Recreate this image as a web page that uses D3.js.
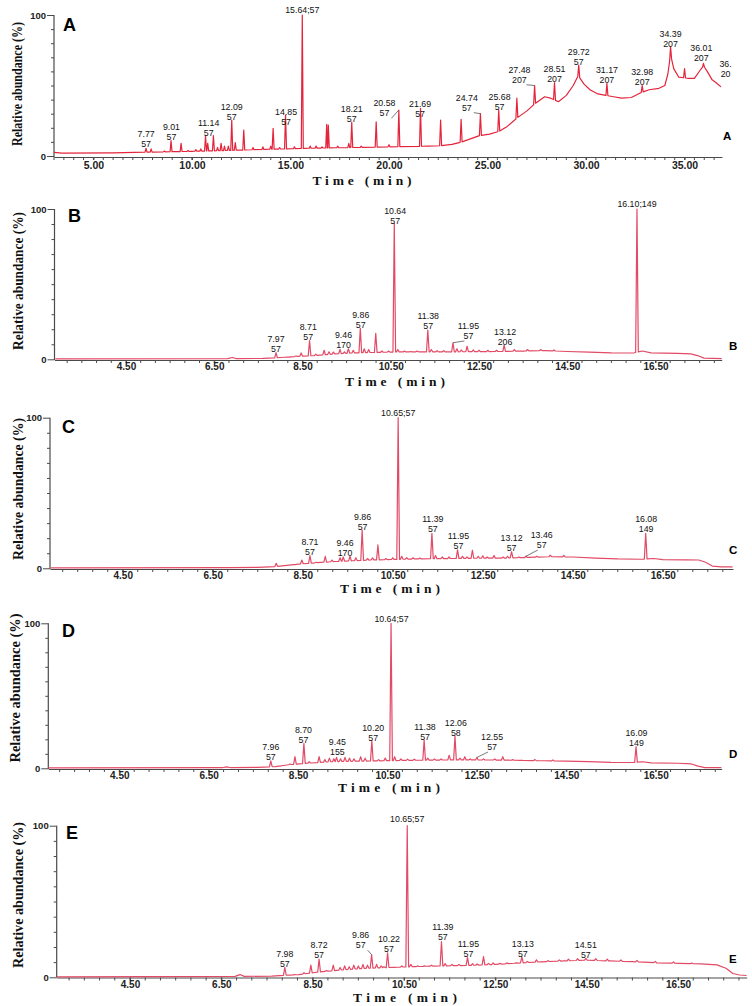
<!DOCTYPE html>
<html><head><meta charset="utf-8">
<script src="https://cdn.jsdelivr.net/npm/d3@7"></script>
<style>body{margin:0;background:#fff}svg{display:block}</style>
</head><body><svg id="c" width="752" height="1006"></svg>
<script>
// ================= DATA =================
const panelNames = ["A","B","C","D","E"];

// x tick values / labels
const xTicksA = [5,10,15,20,25,30,35];
const xTickLabelsA = ["5.00","10.00","15.00","20.00","25.00","30.00","35.00"];
const xTicksBE = [4.5,6.5,8.5,10.5,12.5,14.5,16.5];
const xTickLabelsBE = ["4.50","6.50","8.50","10.50","12.50","14.50","16.50"];
const yTicks = [0,10,20,30,40,50,60,70,80,90,100];
const yTickLabels = ["0","","","","","","","","","","100"];

// ---- Panel A : baseline [time, %] and peaks [time, %]
const baseA = [[3.0,2.6],[3.4,2.0],[6,2.2],[8,2.8],[10,3.3],[12,4.0],[14,4.8],[16,5.5],[18,6.0],[20,6.5],[22,7.0],[22.6,7.3],[23.2,8.3],[23.7,10],[24.2,12.5],[24.6,14.5],[25.1,15.5],[25.6,17.5],[26.0,21],[26.5,27],[27.0,32],[27.4,37],[27.9,42],[28.2,41],[28.6,38.5],[29.0,43],[29.35,50],[29.6,57],[29.9,51],[30.2,47],[30.6,44],[31.0,43],[31.4,42],[31.8,41],[32.3,41.5],[32.8,45],[33.2,47],[33.7,48],[34.0,50],[34.15,58],[34.29,72],[34.45,62],[34.7,56],[35.2,55],[35.5,55],[35.8,61],[35.96,64],[36.15,60],[36.4,54],[36.6,52],[36.85,49]];
const peaksA = [[7.67,5.5],[7.93,5.0],[8.6,3.5],[8.94,10.9],[9.45,9],[9.8,4],[10.2,4.5],[10.45,5],[10.69,14.2],[10.8,9],[11.09,14.4],[11.3,6],[11.48,9],[11.65,7],[11.85,7],[12.02,25.5],[12.2,9.5],[12.63,18.4],[13.1,6],[13.6,6.5],[14.0,7],[14.12,19.6],[14.45,6],[14.75,29],[15.2,6.5],[15.6,100],[16.0,7],[16.3,7],[16.6,6.5],[16.84,22.5],[16.92,22],[17.4,7],[17.96,9],[18.11,24],[18.59,7],[19.35,24.3],[20.0,8],[20.5,32.6],[21.6,33.8],[22.62,25.5],[23.66,26],[24.64,30],[25.57,32.6],[26.49,41],[27.39,50],[28.4,52],[29.63,64.5],[31.06,51.5],[32.85,50],[34.29,77.5],[35.0,62],[35.96,65.7]];
// labels: [line1, line2, time, % (bottom line), leaderTime, leader%]
const labelsA = [
 ["7.77","57",7.675,9.0],["9.01","57",8.96,14.2],["11.14","57",10.85,16.8],["12.09","57",12.02,28.6],
 ["14.85","57",14.78,25.0],["15.64;57",null,15.6,103.5],["18.21","57",18.11,26.7],
 ["20.58","57",19.77,31.0,20.5,32.6],["21.69","57",21.58,30.3],["24.74","57",23.95,35.0,24.64,30],
 ["25.68","57",25.61,35.5],["27.48","207",26.62,54.8,27.39,50],["28.51","207",28.4,55.1],
 ["29.72","57",29.63,67.4],["31.17","207",31.06,54.4],["32.98","207",32.85,53.4],
 ["34.39","207",34.29,80.4],["36.01","207",35.85,70.0],["36.","20",37.08,58.7]
];

// ---- Panel B
const baseB = [[2.9,0.3],[6.8,0.4],[6.92,1.2],[7.0,0.4],[7.6,0.6],[8.0,1.2],[8.4,2.0],[8.8,2.5],[9.2,3.5],[9.6,4.2],[10.0,4.5],[10.5,4.8],[11,5],[12,5],[13,5.2],[13.5,5.5],[14,5.8],[14.5,5.2],[15,4.8],[15.5,4.3],[16.0,4.2],[16.2,5.5],[16.4,4.3],[17.0,4.0],[17.3,3.6],[17.45,2.5],[17.6,0.8],[18.0,0.4]];
const peaksB = [[7.9,4.4],[8.2,1.5],[8.35,2.2],[8.47,4.2],[8.66,12.4],[8.8,3.5],[8.99,6],[9.1,5],[9.2,4.8],[9.35,6.6],[9.45,5],[9.54,7],[9.65,6],[9.81,20.6],[9.9,7],[10.0,6.5],[10.16,17.3],[10.3,5.5],[10.45,5.5],[10.58,90.5],[10.66,6.5],[10.81,5.5],[10.95,5.2],[11.1,5.5],[11.34,19.5],[11.42,6.5],[11.55,5.8],[11.7,5.8],[11.91,11],[12.0,7],[12.1,6.2],[12.23,8.7],[12.37,6.2],[12.5,6],[12.7,6],[12.9,6],[13.07,9.5],[13.3,6.5],[13.6,6.5],[13.9,6.5],[14.2,6.2],[16.08,100]];
const labelsB = [
 ["7.97","57",7.9,7.3],["8.71","57",8.63,15.7],["9.46","170",9.43,10.2],["9.86","57",9.82,23.5],
 ["10.64","57",10.6,92.7],["11.38","57",11.35,22.8],["11.95","57",12.26,16.2,11.91,11],
 ["13.12","206",13.09,12.4],["16.10;149",null,16.08,103.3]
];

// ---- Panel C
const baseC = [[2.9,0.3],[6.9,0.5],[7.5,0.6],[7.9,1.2],[8.3,2.5],[8.7,3.5],[9.2,4.5],[9.6,5.0],[10,5.5],[11,6.2],[12,6.6],[13,6.8],[13.5,7.2],[14,7.7],[14.5,7.5],[15,6.8],[15.5,6.2],[16.0,6.0],[16.3,6.5],[16.5,5.8],[17.0,5.6],[17.3,5.5],[17.45,4],[17.6,1.5],[17.8,1.0],[18.05,1.0]];
const peaksC = [[7.91,3.3],[8.33,2.5],[8.48,5.5],[8.66,8.4],[8.8,4],[9.0,7.9],[9.15,5.5],[9.33,7],[9.4,7.5],[9.55,8],[9.68,7],[9.82,25.4],[9.94,6.5],[10.05,7],[10.17,15.5],[10.35,6.5],[10.5,7],[10.62,100],[10.7,8],[10.81,7],[10.95,7],[11.1,6.8],[11.37,23.2],[11.45,8.5],[11.6,7.5],[11.75,7.5],[11.94,12.2],[12.05,8],[12.15,7.5],[12.27,12],[12.4,8],[12.5,8.3],[12.6,7.5],[12.75,8.5],[12.95,7.5],[13.05,8],[13.14,11],[13.3,7.5],[13.46,8],[13.7,8],[14.0,8.7],[14.3,8.5],[16.12,23.2]];
const labelsC = [
 ["8.71","57",8.66,11.5],["9.46","170",9.44,11.0],["9.86","57",9.83,28.3],["10.65;57",null,10.62,103.3],
 ["11.39","57",11.39,27.0],["11.95","57",11.96,15.5],["13.12","57",13.14,13.9],
 ["13.46","57",13.81,16.1,13.46,8],["16.08","149",16.13,27.0]
];

// ---- Panel D
const baseD = [[2.92,0.3],[6.8,0.4],[6.9,1.0],[7.0,0.4],[7.6,0.6],[8.0,1.2],[8.3,2.5],[8.7,3.5],[9.2,4.5],[9.6,4.8],[10,5],[11,5.5],[12,5.8],[13,5.7],[14,5.2],[15,4.6],[15.5,4.1],[16.0,4.0],[16.2,4.5],[16.4,3.7],[17.0,3.5],[17.3,3.0],[17.45,1.5],[17.6,0.5],[17.97,0.4]];
const peaksD = [[7.89,5.2],[8.1,1.5],[8.32,3],[8.43,8],[8.63,17.2],[8.75,4.5],[8.97,8],[9.1,6],[9.2,7],[9.3,6.5],[9.36,7.5],[9.45,6.5],[9.55,7.5],[9.65,7],[9.75,6.5],[9.9,8],[10.0,7],[10.15,19],[10.3,6],[10.45,7],[10.58,100],[10.66,8],[10.8,6.5],[10.95,6.3],[11.1,6.3],[11.32,19.5],[11.4,7],[11.55,6.5],[11.7,6.5],[11.88,9],[12.01,22.3],[12.12,7],[12.23,8],[12.35,6.5],[12.5,7.5],[12.65,6.5],[12.9,6.5],[13.08,8],[13.3,6],[13.5,5.5],[13.8,6],[14.2,5.8],[16.06,14.9]];
const labelsD = [
 ["7.96","57",7.89,8.7],["8.70","57",8.62,20.2],["9.45","155",9.38,11.9],["10.20","57",10.18,21.8],
 ["10.64;57",null,10.59,103],["11.38","57",11.34,22.5],["12.06","58",12.03,25.2],
 ["12.55","57",12.84,15.4,12.5,7.5],["16.09","149",16.07,17.9]
];

// ---- Panel E
const baseE = [[2.9,0.3],[6.8,0.6],[6.91,1.8],[7.0,0.6],[7.6,0.8],[8.0,1.5],[8.2,1.8],[8.5,3],[8.8,4],[9.2,5],[9.6,5.8],[10,6.3],[11,7.3],[12,7.9],[12.5,8.5],[13,9.4],[13.5,10.2],[14,10.8],[14.5,11.3],[15,10.8],[15.5,10.3],[16,9.6],[16.5,9.2],[17,8.8],[17.35,8.2],[17.55,6],[17.7,2.5],[17.85,1.5],[18.0,1.2]];
const peaksE = [[7.89,6.6],[8.1,1.8],[8.31,3],[8.46,8],[8.64,12],[8.8,4.5],[8.95,8],[9.1,6.5],[9.2,7.5],[9.3,7],[9.4,8],[9.5,7.5],[9.6,8.5],[9.7,8],[9.79,15],[9.9,8.5],[10.0,7.5],[10.06,7],[10.14,16.2],[10.3,6.5],[10.45,7.5],[10.57,100],[10.65,8.5],[10.8,7.5],[10.95,7.5],[11.1,8],[11.32,23.5],[11.4,9],[11.55,8.5],[11.7,8.5],[11.89,13.2],[12.0,9],[12.1,8.8],[12.24,13.6],[12.35,9.2],[12.45,9.5],[12.6,9.2],[12.75,9.5],[12.95,9.5],[13.08,13.5],[13.2,10.5],[13.4,11.5],[13.65,11],[13.9,11.5],[14.1,12],[14.3,12.3],[14.48,12.5],[14.7,12.3],[14.95,12],[15.25,11.5],[15.6,11.2],[16.0,10.5],[16.4,10.2],[16.8,9.5]];
const labelsE = [
 ["7.98","57",7.89,9.2],["8.72","57",8.64,15.4],["9.86","57",9.55,21.8,9.79,15],["10.22","57",10.17,19.5],
 ["10.65;57",null,10.57,104.2],["11.39","57",11.35,27.2],["11.95","57",11.91,16.2],
 ["13.13","57",13.1,16.2],["14.51","57",14.48,15.4]
];

// ================= LAYOUT (pixels / styles) =================
const layout = [
 {name:"A", base:baseA, peaks:peaksA, labels:labelsA, xt:xTicksA, xl:xTickLabelsA, minorStep:0.5, minorStart:3.0,
  px:[54,722], t:[3.0,36.9], y0:156, y100:15, axisY:157, tickLblDy:8, tickFs:10.5, w:0.05, color:"#e3243b",
  letter:[63,31], small:[723,140], ylab:[17,84,124], xtitle:[362,184.5,99]},
 {name:"B", base:baseB, peaks:peaksB, labels:labelsB, xt:xTicksBE, xl:xTickLabelsBE, minorStep:1/3, minorStart:4.5,
  px:[54.5,721.7], t:[2.88,18.0], y0:359.3, y100:209, axisY:360, tickLblDy:6.5, tickFs:10, w:0.03, color:"#e24a66",
  letter:[68,222], small:[729,349.5], ylab:[18,281,138], xtitle:[395,385.5,100]},
 {name:"C", base:baseC, peaks:peaksC, labels:labelsC, xt:xTicksBE, xl:xTickLabelsBE, minorStep:1/3, minorStart:4.5,
  px:[50,733], t:[2.884,18.06], y0:568.3, y100:417.7, axisY:569, tickLblDy:6.5, tickFs:10, w:0.03, color:"#e24a66",
  letter:[62,433], small:[729,554], ylab:[18,489,142], xtitle:[390,592.5,100]},
 {name:"D", base:baseD, peaks:peaksD, labels:labelsD, xt:xTicksBE, xl:xTickLabelsBE, minorStep:1/3, minorStart:4.5,
  px:[48.3,721.7], t:[2.912,17.977], y0:768.3, y100:623.3, axisY:769, tickLblDy:6, tickFs:10, w:0.03, color:"#e24a66",
  letter:[62,637], small:[729,758], ylab:[15,688,149], xtitle:[389,792,102]},
 {name:"E", base:baseE, peaks:peaksE, labels:labelsE, xt:xTicksBE, xl:xTickLabelsBE, minorStep:1/3, minorStart:4.5,
  px:[56.7,746.7], t:[2.895,18.003], y0:977.3, y100:825.7, axisY:977.5, tickLblDy:6.5, tickFs:10, w:0.03, color:"#e24a66",
  letter:[66,839], small:[729,963], ylab:[18,895,146], xtitle:[405,1001.5,104]}
];

const svg = d3.select("#c");
const SANS = "'Liberation Sans', Arial, sans-serif";
const SERIF = "'Liberation Serif', 'Times New Roman', serif";
const AXC = "#4a4a4a";
const LBL_FS = 8.8, LBL_GAP = 10;

function buildTrace(base, peaks, w) {
  const bs = d3.scaleLinear().domain(base.map(d=>d[0])).range(base.map(d=>d[1])).clamp(true);
  let pts = base.filter(b => !peaks.some(p => b[0] > p[0]-w && b[0] < p[0]+w)).map(d=>[d[0],d[1]]);
  peaks.forEach(([t,h]) => { pts.push([t-w, bs(t-w)],[t,h],[t+w, bs(t+w)]); });
  pts.sort((a,b)=>a[0]-b[0]);
  return pts;
}

layout.forEach(P => {
  const g = svg.append("g");
  const x = d3.scaleLinear().domain(P.t).range(P.px);
  const y = d3.scaleLinear().domain([0,100]).range([P.y0, P.y100]);

  // minor x ticks
  const minor = [];
  for (let v = P.minorStart; v <= P.t[1]+1e-6; v += P.minorStep) minor.push(v);
  for (let v = P.minorStart - P.minorStep; v >= P.t[0]-1e-6; v -= P.minorStep) minor.push(v);
  g.append("g").selectAll("line").data(minor).join("line")
    .attr("x1", d=>x(d)).attr("x2", d=>x(d)).attr("y1", P.axisY).attr("y2", P.axisY+3)
    .attr("stroke", AXC).attr("stroke-width", 1);

  // x axis
  const xa = g.append("g").attr("transform", `translate(0,${P.axisY})`)
    .call(d3.axisBottom(x).tickValues(P.xt).tickFormat((d,i)=>P.xl[i]).tickSize(3).tickSizeOuter(0));
  xa.select(".domain").attr("stroke", AXC).attr("stroke-width", 1.2);
  xa.selectAll(".tick line").attr("stroke", AXC);
  xa.selectAll("text").attr("y", P.tickLblDy).attr("dy","0.35em")
    .attr("font-family", SANS).attr("font-weight","bold").attr("font-size", P.tickFs).attr("fill","#222");

  // y axis
  const ya = g.append("g").attr("transform", `translate(${P.px[0]},0)`)
    .call(d3.axisLeft(y).tickValues(yTicks).tickFormat((d,i)=>yTickLabels[i]).tickSize(3).tickSizeOuter(0));
  ya.select(".domain").attr("stroke", AXC).attr("stroke-width", 1.2).attr("d", `M0,${P.axisY}V${P.y100}`);
  ya.selectAll(".tick line").attr("stroke", AXC).attr("x2", d => (d===0||d===100) ? -7 : -3);
  ya.selectAll("text").attr("x", -8).attr("font-family", SANS).attr("font-weight","bold")
    .attr("font-size", 9.5).attr("fill","#222");

  // trace
  const pts = buildTrace(P.base, P.peaks, P.w);
  g.append("path").datum(pts)
    .attr("d", d3.line().x(d=>x(d[0])).y(d=>y(d[1])))
    .attr("fill","none").attr("stroke", P.color).attr("stroke-width", 1.2).attr("stroke-linejoin","round");

  // peak labels
  const lg = g.append("g").attr("font-family", SANS).attr("font-size", LBL_FS).attr("fill","#111").attr("text-anchor","middle");
  P.labels.forEach(L => {
    const [l1,l2,t,pct,lt,lp] = L;
    const cx = x(t), cy = y(pct);
    if (l2 === null) {
      lg.append("text").attr("x", cx).attr("y", cy).attr("dy","0.35em").text(l1);
    } else {
      lg.append("text").attr("x", cx).attr("y", cy-LBL_GAP+1).attr("dy","0.35em").text(l1);
      lg.append("text").attr("x", cx).attr("y", cy+1).attr("dy","0.35em").text(l2);
    }
    if (lt !== undefined) {
      const tx = x(lt), ty = y(lp);
      const sx = cx + (tx > cx ? 7 : -4);
      g.append("line").attr("x1", sx).attr("y1", cy+6).attr("x2", tx).attr("y2", ty)
        .attr("stroke","#555").attr("stroke-width",0.8);
    }
  });

  // panel letters
  g.append("text").attr("x", P.letter[0]).attr("y", P.letter[1]).text(P.name)
    .attr("font-family", SANS).attr("font-weight","bold").attr("font-size", 18).attr("fill","#000");
  g.append("text").attr("x", P.small[0]).attr("y", P.small[1]).text(P.name)
    .attr("font-family", SANS).attr("font-weight","bold").attr("font-size", 11.5).attr("fill","#000");

  // y title (condensed via horizontal scale)
  const yt = g.append("text")
    .attr("text-anchor","middle").attr("dy","0.35em")
    .attr("font-family", SERIF).attr("font-weight","bold").attr("font-size", 15).attr("fill","#111")
    .text("Relative abundance (%)");
  const nat = yt.node().getComputedTextLength();
  const k = P.ylab[2] / nat;
  yt.attr("transform", `translate(${P.ylab[0]},${P.ylab[1]}) rotate(-90) scale(${k},1)`);

  // x title
  g.append("text").attr("x", P.xtitle[0]).attr("y", P.xtitle[1]).attr("text-anchor","middle")
    .attr("font-family", SERIF).attr("font-weight","bold").attr("font-size", 13.5)
    .attr("textLength", P.xtitle[2]).attr("lengthAdjust","spacing").attr("fill","#111")
    .text("Time (min)");
});
</script></body></html>
